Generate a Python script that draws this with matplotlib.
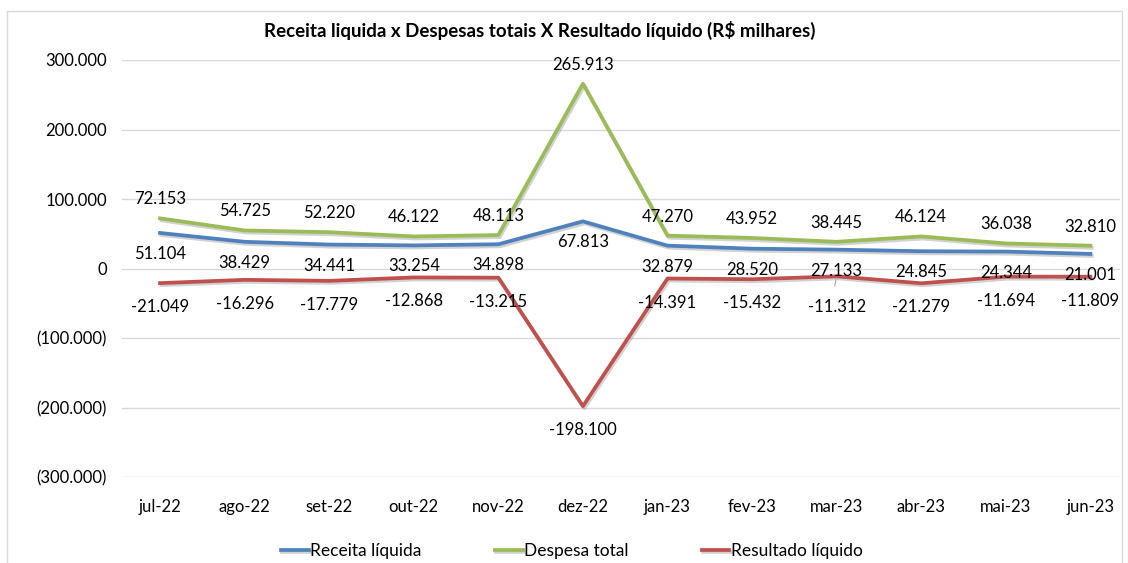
import matplotlib
matplotlib.use("Agg")
import matplotlib.pyplot as plt
import matplotlib.patheffects as pe
from matplotlib.ticker import FuncFormatter
from matplotlib.patches import Rectangle

plt.rcParams['font.family'] = ['Lato', 'DejaVu Sans']

meses = ['jul-22', 'ago-22', 'set-22', 'out-22', 'nov-22', 'dez-22',
         'jan-23', 'fev-23', 'mar-23', 'abr-23', 'mai-23', 'jun-23']
receita = [51104, 38429, 34441, 33254, 34898, 67813,
           32879, 28520, 27133, 24845, 24344, 21001]
despesa = [72153, 54725, 52220, 46122, 48113, 265913,
           47270, 43952, 38445, 46124, 36038, 32810]
resultado = [-21049, -16296, -17779, -12868, -13215, -198100,
             -14391, -15432, -11312, -21279, -11694, -11809]


def br_num(v):
    s = f"{abs(v):,.0f}".replace(",", ".")
    return "-" + s if v < 0 else s


def br_tick(v, pos):
    if v == 0:
        return "0"
    s = f"{abs(v):,.0f}".replace(",", ".")
    return f"({s})" if v < 0 else s


fig = plt.figure(figsize=(11.28, 5.63), dpi=100)
fig.patches.append(Rectangle((7 / 1128, -0.01), 1115 / 1128, 1 - 11 / 563 + 0.01,
                             transform=fig.transFigure, fill=False,
                             edgecolor='#D9D9D9', linewidth=1))
ax = fig.add_axes([122 / 1128, 1 - 477 / 563, 998 / 1128, 417 / 563])

x = list(range(len(meses)))
shadow = [pe.SimpleLineShadow(offset=(1, -1.5), shadow_color='gray', alpha=0.35), pe.Normal()]

# label offsets in pixels (Excel put some labels by hand)
series = [
    (receita, '#4F81BD', 'Receita líquida', -21),
    (despesa, '#9BBB59', 'Despesa total', 19),
    (resultado, '#C0504D', 'Resultado líquido', -24),
]
for vals, cor, nome, dy in series:
    ax.plot(x, vals, color=cor, linewidth=2.7, label=nome,
            solid_joinstyle='round', path_effects=shadow, zorder=3)
    for i, v in enumerate(vals):
        off = dy
        if nome == 'Resultado líquido' and meses[i] == 'mar-23':
            off = -31
            ax.annotate('', (i, v), xytext=(i - 0.03, v - 18000),
                        arrowprops=dict(arrowstyle='-', color='#A6A6A6', lw=0.8))
        ax.annotate(br_num(v), (i, v), xytext=(0, off),
                    textcoords='offset pixels', ha='center', va='center',
                    fontsize=12, color='black', zorder=4)

ax.set_ylim(-300000, 300000)
ax.set_yticks(range(-300000, 300001, 100000))
ax.yaxis.set_major_formatter(FuncFormatter(br_tick))
ax.set_xlim(-0.45, 11.35)
ax.set_xticks(x)
ax.set_xticklabels(meses)
ax.tick_params(axis='both', length=0, labelsize=12)
ax.tick_params(axis='x', pad=16)
ax.tick_params(axis='y', pad=11)
ax.grid(axis='y', color='#D9D9D9', linewidth=1)
ax.set_axisbelow(True)
for s in ax.spines.values():
    s.set_visible(False)

fig.text(540 / 1128, 1 - 30 / 563, 'Receita liquida x Despesas totais X Resultado líquido (R$ milhares)',
         ha='center', va='center', fontsize=13.5, fontweight='bold')

fig.legend(loc='center', bbox_to_anchor=(572 / 1128, 1 - 551 / 563), ncol=3,
           frameon=False, fontsize=12.5, handlelength=1.6, handletextpad=0.1,
           columnspacing=4.2)

fig.savefig('out.png', dpi=100)
